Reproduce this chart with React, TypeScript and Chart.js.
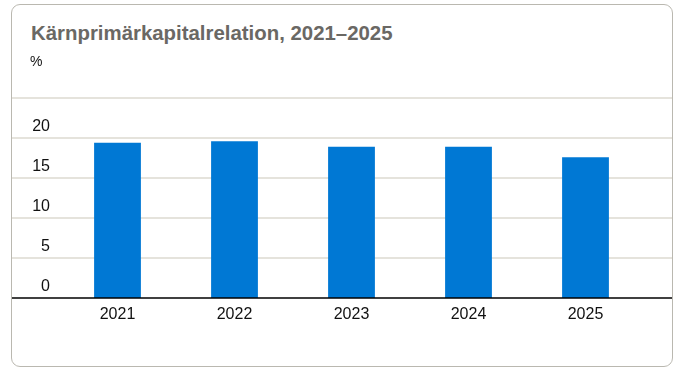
import React, { useEffect, useRef } from "react";
import { Chart, registerables } from "chart.js";

Chart.register(...registerables);

const title = "Kärnprimärkapitalrelation, 2021–2025";
const unitLabel = "%";
const categories = ["2021", "2022", "2023", "2024", "2025"];
const values = [19.4, 19.6, 18.9, 18.9, 17.6];
const yTicks = [0, 5, 10, 15, 20, 25];
const hiddenTickLabels = [25];

const FONT = '"Liberation Sans", Arial, Helvetica, sans-serif';

const fullWidthGrid = {
  id: "fullWidthGrid",
  beforeDatasetsDraw(chart: any) {
    const ys = chart.scales.y;
    const ctx = chart.ctx;
    ctx.save();
    ctx.strokeStyle = "#dcdad0";
    ctx.lineWidth = 1.5;
    ys.ticks.forEach((t: any) => {
      if (t.value === 0) return;
      const py = ys.getPixelForValue(t.value);
      ctx.beginPath();
      ctx.moveTo(0, py);
      ctx.lineTo(chart.width, py);
      ctx.stroke();
    });
    ctx.restore();
  },
  afterDatasetsDraw(chart: any) {
    const ys = chart.scales.y;
    const ctx = chart.ctx;
    const py = ys.getPixelForValue(0);
    ctx.save();
    ctx.strokeStyle = "#000000";
    ctx.lineWidth = 1.5;
    ctx.beginPath();
    ctx.moveTo(0, py);
    ctx.lineTo(chart.width, py);
    ctx.stroke();
    ctx.restore();
  },
};

export default function App() {
  const ref = useRef<HTMLCanvasElement | null>(null);

  useEffect(() => {
    if (!ref.current) return;
    const chart = new Chart(ref.current, {
      type: "bar",
      data: {
        labels: categories,
        datasets: [
          {
            data: values,
            backgroundColor: "#0078d4",
            borderWidth: 0,
            barPercentage: 0.4,
            categoryPercentage: 1,
          },
        ],
      },
      options: {
        responsive: false,
        animation: false,
        layout: { padding: { left: 0, right: 28, top: 93, bottom: 28 } },
        plugins: {
          legend: { display: false },
          tooltip: { enabled: false },
          title: { display: false },
        },
        scales: {
          x: {
            type: "category",
            grid: { display: false, drawTicks: false },
            border: { display: false },
            ticks: {
              color: "#111111",
              font: { family: FONT, size: 16 },
              padding: 7,
              maxRotation: 0,
            },
            afterFit: (s: any) => {
              s.height = 40;
            },
          },
          y: {
            type: "linear",
            min: 0,
            max: 25,
            grid: { display: false, drawTicks: false },
            border: { display: false },
            afterBuildTicks: (s: any) => {
              s.ticks = yTicks.map((v) => ({ value: v }));
            },
            afterFit: (s: any) => {
              s.width = 47;
            },
            ticks: {
              color: "#111111",
              font: { family: FONT, size: 16 },
              padding: 9,
              labelOffset: -11,
              callback: (v: any) => (hiddenTickLabels.includes(Number(v)) ? "" : String(v)),
            },
          },
        },
      },
      plugins: [fullWidthGrid],
    });
    return () => chart.destroy();
  }, []);

  return (
    <div
      style={{
        position: "fixed",
        left: 11,
        top: 4,
        width: 660,
        height: 361,
        border: "1px solid #bab8b0",
        borderRadius: 9,
        overflow: "hidden",
        background: "#ffffff",
        fontFamily: FONT,
      }}
    >
      <div
        style={{
          position: "absolute",
          left: 19,
          top: 18,
          fontSize: 20.4,
          lineHeight: "20px",
          fontWeight: 700,
          color: "#6a6864",
          whiteSpace: "nowrap",
        }}
      >
        {title}
      </div>
      <div
        style={{
          position: "absolute",
          left: 18,
          top: 49,
          fontSize: 14,
          lineHeight: "14px",
          color: "#111111",
        }}
      >
        {unitLabel}
      </div>
      <canvas
        ref={ref}
        width={660}
        height={361}
        style={{ position: "absolute", left: 0, top: 0, width: 660, height: 361 }}
      />
    </div>
  );
}
